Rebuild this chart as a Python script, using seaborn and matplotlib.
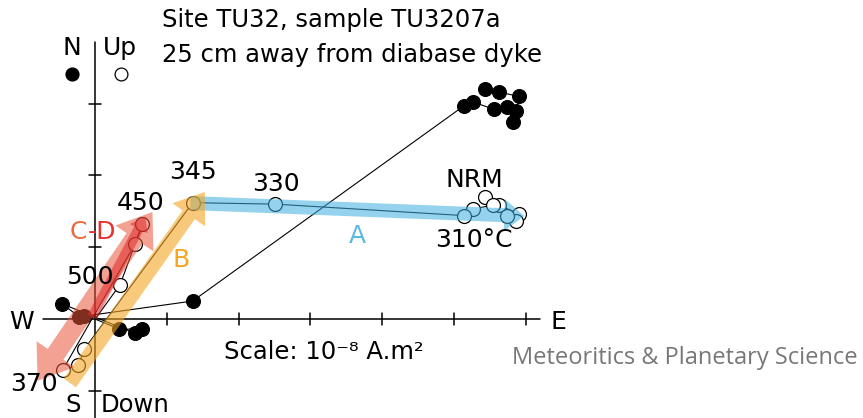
import numpy as np
import pandas as pd
import matplotlib
matplotlib.use("Agg")
import matplotlib.pyplot as plt
import seaborn as sns
from matplotlib.patches import Polygon

# ---------------- data (units of 1e-8 A.m2) ----------------
# horizontal projection (filled symbols): East vs North
h_steps = ["NRM", "h2", "h3", "h4", "h5", "h6", "h7", "h8", "310",
           "345", "355", "360", "370", "400", "450", "500", "end"]
h_east = [5.43, 5.62, 5.91, 5.87, 5.82, 5.74, 5.56, 5.27, 5.14,
          1.36, -0.15, -0.22, -0.455, 0.56, 0.65, 0.34, 0.0]
h_north = [3.20, 3.16, 3.10, 2.89, 2.75, 2.95, 2.92, 3.02, 2.97,
           0.25, 0.04, 0.03, 0.21, -0.20, -0.14, -0.14, 0.0]

# vertical projection (open symbols): East vs Up
v_steps = ["NRM", "v2", "v3", "v4", "v5", "v6", "v7", "310", "330",
           "345", "355", "360", "370", "400", "450", "500", "end"]
v_east = [5.43, 5.62, 5.91, 5.86, 5.74, 5.55, 5.27, 5.14, 2.51,
          1.36, -0.15, -0.23, -0.45, 0.56, 0.66, 0.35, 0.01]
v_up = [1.70, 1.59, 1.46, 1.36, 1.44, 1.59, 1.53, 1.44, 1.60,
        1.62, -0.42, -0.64, -0.71, 1.05, 1.32, 0.48, 0.01]

x_ticks = [1, 2, 3, 4, 5, 6]
y_ticks = [-1, 1, 2, 3]

step_labels = {"NRM": "NRM", "310": "310°C", "330": "330", "345": "345",
               "370": "370", "450": "450", "500": "500"}

# components: (start, end) in data units
comp_A = ((1.33, 1.615), (5.98, 1.435))
comp_B = ((-0.35, -0.89), (1.53, 1.77))
comp_CD_wide = ((-0.80, -0.86), (0.80, 1.49))
comp_CD_narrow = ((-0.04, 0.03), (0.70, 1.43))

hdf = pd.DataFrame({"step": h_steps, "E": h_east, "N": h_north})
vdf = pd.DataFrame({"step": v_steps, "E": v_east, "U": v_up})

# ---------------- figure ----------------
sns.set_style("white")
plt.rcParams["font.family"] = ["DejaVu Sans"]
plt.rcParams["text.color"] = "black"
W, H, DPI = 863, 418, 100
PX = 71.8  # pixels per unit
ox, oy = 95, 319
fig = plt.figure(figsize=(W / DPI, H / DPI), dpi=DPI)
ax = fig.add_axes([0, 0, 1, 1])
ax.set_xlim(-ox / PX, (W - ox) / PX)
ax.set_ylim((oy - H) / PX, oy / PX)
ax.set_aspect("equal")
ax.axis("off")

# axes lines + ticks
tl = 6 / PX
ax.plot([-52 / PX, 445 / PX], [0, 0], color="black", lw=1.1, zorder=1)
ax.plot([0, 0], [-100 / PX, 277 / PX], color="black", lw=1.1, zorder=1)
for t in x_ticks:
    ax.plot([t, t], [-tl, tl], color="black", lw=1.1, zorder=1)
for t in y_ticks:
    ax.plot([-tl, tl], [t, t], color="black", lw=1.1, zorder=1)

# connecting lines
sns.lineplot(data=hdf, x="E", y="N", sort=False, estimator=None,
             color="black", lw=0.8, ax=ax, zorder=2)
sns.lineplot(data=vdf, x="E", y="U", sort=False, estimator=None,
             color="black", lw=0.8, ax=ax, zorder=2)
# markers
hm = hdf[hdf.step != "end"]
vm = vdf[vdf.step != "end"]
sns.scatterplot(data=hm, x="E", y="N", color="black", edgecolor="black",
                s=100, linewidth=0.8, ax=ax, zorder=3)
sns.scatterplot(data=vm, x="E", y="U", color="white", edgecolor="black",
                s=100, linewidth=0.9, ax=ax, zorder=3)


def arrow_poly(p0, p1, w, hw, hl, head0=False, head1=True):
    p0 = np.array(p0, float)
    p1 = np.array(p1, float)
    u = (p1 - p0) / np.linalg.norm(p1 - p0)
    n = np.array([-u[1], u[0]])
    pts = []
    if head1:
        b1 = p1 - u * hl
        pts += [p1, b1 + n * hw / 2, b1 + n * w / 2]
    else:
        pts += [p1 + n * w / 2]
    if head0:
        b0 = p0 + u * hl
        pts += [b0 + n * w / 2, b0 + n * hw / 2, p0, b0 - n * hw / 2, b0 - n * w / 2]
    else:
        pts += [p0 + n * w / 2, p0 - n * w / 2]
    if head1:
        pts += [b1 - n * w / 2, b1 - n * hw / 2]
    else:
        pts += [p1 - n * w / 2]
    return np.array(pts)


def add_arrow(comp, color, alpha, w, hw, hl, head0=False, z=4):
    poly = arrow_poly(comp[0], comp[1], w / PX, hw / PX, hl / PX, head0=head0)
    ax.add_patch(Polygon(poly, closed=True, facecolor=color, edgecolor="none",
                         alpha=alpha, zorder=z))


add_arrow(comp_A, "#3daee0", 0.55, 14, 32, 20)
add_arrow(comp_CD_wide, "#e8553a", 0.55, 19, 46, 32, head0=True)
add_arrow(comp_CD_narrow, "#e02828", 0.55, 10, 20, 14, z=5)
add_arrow(comp_B, "#f5a623", 0.6, 15, 40, 28, z=6)

# step labels
offsets = {"NRM": (-10, 17), "310": (10, -24), "330": (1, 20), "345": (0, 31),
           "370": (-29, -14), "450": (-2, 21), "500": (-30, 8)}
for _, r in vdf.iterrows():
    if r.step in step_labels:
        dx, dy = offsets[r.step]
        ax.annotate(step_labels[r.step], (r.E, r.U), xytext=(dx, dy),
                    textcoords="offset pixels", ha="center", va="center",
                    fontsize=18, color="black", zorder=8)


def ptext(px, py, s, **kw):
    return ax.text(px / W, 1 - py / H, s, transform=ax.transAxes, **kw)


ptext(162, 20, "Site TU32, sample TU3207a", fontsize=17.5, ha="left", va="center")
ptext(162, 55, "25 cm away from diabase dyke", fontsize=17.5, ha="left", va="center")
ptext(72, 48, "N", fontsize=18, ha="center", va="center")
ptext(103, 48, "Up", fontsize=18, ha="left", va="center")
ptext(22, 322, "W", fontsize=18, ha="center", va="center")
ptext(558, 322, "E", fontsize=18, ha="center", va="center")
ptext(73, 417.5, "S", fontsize=17.5, ha="center", va="bottom")
ptext(101, 417.5, "Down", fontsize=17.5, ha="left", va="bottom")
ptext(224, 352, "Scale: 10⁻⁸ A.m²", fontsize=17.5, ha="left", va="center")
ptext(858, 358, "Meteoritics & Planetary Science", fontsize=17, ha="right",
      va="center", color="#777777", family=["Open Sans", "DejaVu Sans"])

ptext(357, 236, "A", fontsize=18, ha="center", va="center", color="#5bb8e0")
ptext(181, 260, "B", fontsize=18, ha="center", va="center", color="#f5a623")
tC = ptext(70, 232, "C", fontsize=18, ha="left", va="center", color="#ee6a3c")
fig.canvas.draw()
bb = tC.get_window_extent()
ptext(bb.x1, 232, "-D", fontsize=18, ha="left", va="center", color="#e8312f")

# legend symbols
ax.scatter([(72 - ox) / PX], [(oy - 74) / PX], s=85, color="black", zorder=3)
ax.scatter([(121 - ox) / PX], [(oy - 74) / PX], s=85, facecolor="white",
           edgecolor="black", linewidth=0.9, zorder=3)

fig.savefig("out.png", dpi=DPI)
